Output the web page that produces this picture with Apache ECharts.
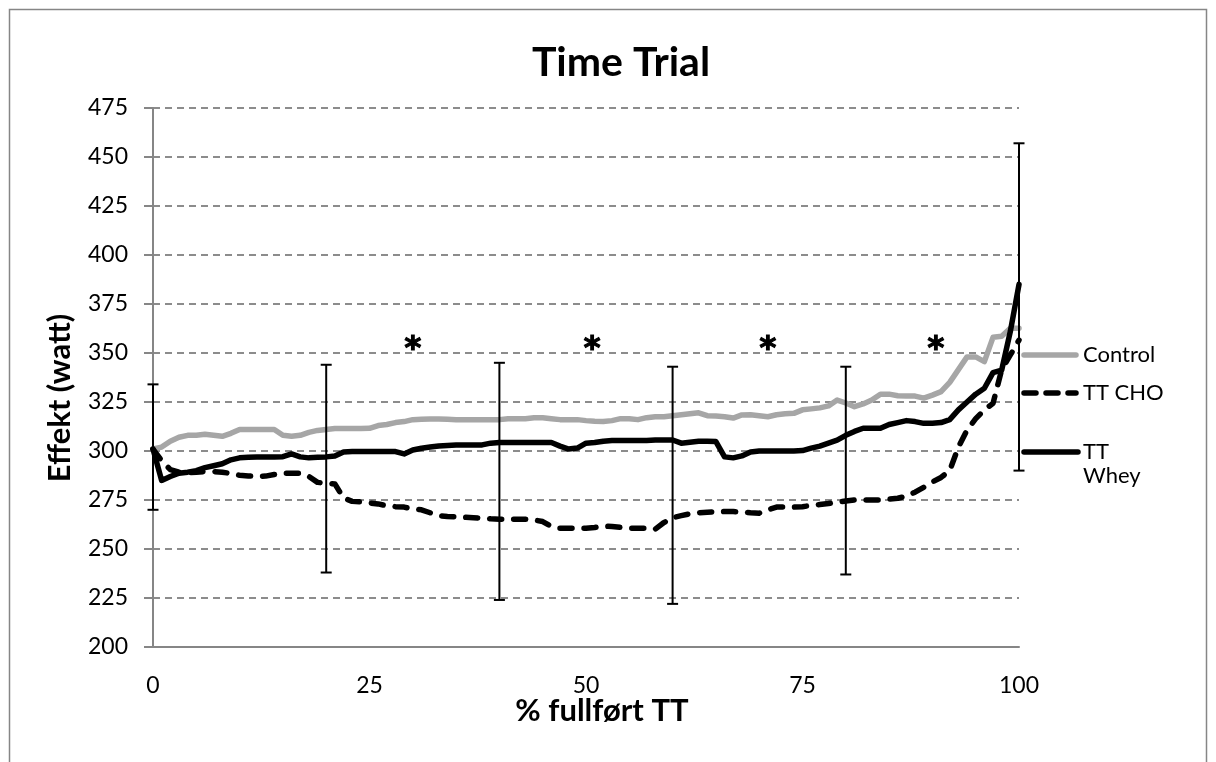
<!DOCTYPE html>
<html>
<head>
<meta charset="utf-8">
<script src="https://cdn.jsdelivr.net/npm/echarts@6/dist/echarts.min.js"></script>
<style>
  html, body { margin: 0; padding: 0; background: #fff; }
  #chart { width: 1216px; height: 762px; }
</style>
</head>
<body>
<div id="chart"></div>
<script>
// % of the time trial completed
const pct = [
  0, 1, 2, 3, 4, 5, 6, 7, 8, 9, 10, 11, 12, 13, 14, 15, 16, 17, 18, 19,
  20, 21, 22, 23, 24, 25, 26, 27, 28, 29, 30, 31, 32, 33, 34, 35, 36, 37, 38, 39,
  40, 41, 42, 43, 44, 45, 46, 47, 48, 49, 50, 51, 52, 53, 54, 55, 56, 57, 58, 59,
  60, 61, 62, 63, 64, 65, 66, 67, 68, 69, 70, 71, 72, 73, 74, 75, 76, 77, 78, 79,
  80, 81, 82, 83, 84, 85, 86, 87, 88, 89, 90, 91, 92, 93, 94, 95, 96, 97, 98, 99, 100
];

// Power output (watt)
const control = [
  301, 302, 305, 307, 308, 308, 308.5, 308, 307.5, 309,
  311, 311, 311, 311, 311, 308, 307.5, 308, 309.5, 310.5,
  311, 311.5, 311.5, 311.5, 311.5, 311.6, 313, 313.5, 314.5, 315,
  316, 316.2, 316.3, 316.3, 316.2, 316, 316, 316, 316, 316,
  316, 316.5, 316.5, 316.5, 317, 317, 316.5, 316, 316, 316,
  315.5, 315.2, 315, 315.5, 316.5, 316.5, 316, 317, 317.5, 317.5,
  318, 318.5, 319, 319.5, 318, 317.8, 317.5, 316.8, 318.4, 318.5,
  318, 317.5, 318.5, 319, 319.2, 321, 321.5, 322, 323, 326,
  324.5, 322.6, 324, 326, 329, 329, 328.2, 328, 328, 327,
  328.5, 330.3, 335, 341.5, 348, 348, 345.6, 358, 358.5, 362.6, 362.6
];

const ttCho = [
  301, 295, 290.5, 289.2, 289, 289.2, 289.5, 289.5, 289.2, 288.5,
  287.6, 287.3, 287, 287.2, 288, 288.6, 288.6, 288.6, 287, 284,
  283.5, 283.2, 276, 274.3, 274, 273.5, 273, 272, 271.6, 271.4,
  270.3, 270, 268.5, 267, 266.6, 266.4, 266.2, 266, 265.7, 265.4,
  265.2, 265.2, 265.2, 265.2, 264.8, 264, 261.5, 260.6, 260.6, 260.6,
  260.6, 261, 261.7, 261.5, 261, 260.6, 260.6, 260.6, 260.1, 263.5,
  266, 267, 268, 268.5, 268.8, 269, 269.1, 269.1, 268.8, 268.5,
  268.3, 270, 271.4, 271.4, 271.4, 271.6, 272.2, 272.7, 273.2, 273.8,
  274.5, 275, 275, 275, 275, 275.4, 275.9, 277, 279, 281.5,
  284.2, 286.5, 290, 302, 310.7, 316.5, 321, 324.3, 341.5, 349, 356.6
];

const ttWhey = [
  301, 285, 287, 288.7, 289.2, 290, 291.5, 292.5, 293.5, 295.5,
  296.5, 296.8, 297, 297, 297, 297.1, 298.5, 297, 296.5, 296.8,
  297, 297.5, 299.5, 299.7, 299.7, 299.7, 299.7, 299.7, 299.7, 298.5,
  300.5, 301.4, 302, 302.6, 302.8, 303, 303, 303, 303.1, 304,
  304.3, 304.3, 304.3, 304.3, 304.3, 304.3, 304.3, 302.5, 301, 301.5,
  304, 304.3, 305, 305.3, 305.3, 305.3, 305.3, 305.3, 305.6, 305.6,
  305.6, 304, 304.5, 305, 305, 304.8, 297, 296.5, 297.5, 299.5,
  300, 300, 300, 300, 300, 300.2, 301.5, 302.5, 304, 305.5,
  308, 310, 311.6, 311.6, 311.6, 313.5, 314.5, 315.5, 315, 314.1,
  314.2, 314.5, 316, 321, 325, 329, 332, 340, 341.3, 361, 385
];

// Error bars (lower and upper ends)
const errX = [0, 20, 40, 60, 80, 100];
const errLow = [270, 238, 224, 222, 237, 290];
const errHigh = [334, 344, 345, 343, 343, 457];

// Significance markers
const sigX = [30, 50.7, 71, 90.4];
const sigY = [356, 356, 356, 356];

// Axis ticks
const yTicks = [200, 225, 250, 275, 300, 325, 350, 375, 400, 425, 450, 475];
const xTicks = [0, 25, 50, 75, 100];

const FONT = 'Lato, "Open Sans", "Liberation Sans", sans-serif';

const zip = (xs, ys) => xs.map((x, i) => [x, ys[i]]);

const chart = echarts.init(document.getElementById('chart'), null, { renderer: 'canvas' });

const option = {
  animation: false,
  backgroundColor: '#ffffff',
  textStyle: { fontFamily: FONT },
  title: {
    text: 'Time Trial',
    left: 616,
    top: 37,
    textAlign: 'center',
    textStyle: { fontFamily: FONT, fontSize: 41, fontWeight: 'bold', color: '#000' }
  },
  grid: { left: 153, right: 197, top: 108, bottom: 115, containLabel: false },
  xAxis: {
    type: 'value',
    min: xTicks[0],
    max: xTicks[xTicks.length - 1],
    interval: 25,
    axisLine: { show: true, onZero: false, lineStyle: { color: '#868686', width: 2 } },
    axisTick: { show: false },
    splitLine: { show: false },
    axisLabel: { color: '#000', fontFamily: FONT, fontSize: 23, margin: 27 }
  },
  yAxis: {
    type: 'value',
    min: yTicks[0],
    max: yTicks[yTicks.length - 1],
    interval: 25,
    axisLine: { show: true, onZero: false, lineStyle: { color: '#868686', width: 2 } },
    axisTick: { show: true, length: 9, lineStyle: { color: '#868686', width: 2 } },
    splitLine: { show: true, lineStyle: { color: '#8c8c8c', width: 2, type: [7, 5] } },
    axisLabel: { color: '#000', fontFamily: FONT, fontSize: 23, margin: 25 }
  },
  series: [
    {
      name: 'Control',
      type: 'line',
      data: zip(pct, control),
      showSymbol: false,
      symbol: 'none',
      clip: false,
      lineStyle: { color: '#a6a6a6', width: 5.5, join: 'round', cap: 'round' },
      z: 2
    },
    {
      name: 'TT CHO',
      type: 'line',
      data: zip(pct, ttCho),
      showSymbol: false,
      symbol: 'none',
      clip: false,
      lineStyle: { color: '#000', width: 5.5, type: [12, 12], cap: 'round', join: 'round' },
      z: 3
    },
    {
      name: 'TT Whey',
      type: 'line',
      data: zip(pct, ttWhey),
      showSymbol: false,
      symbol: 'none',
      clip: false,
      lineStyle: { color: '#000', width: 5.5, join: 'round', cap: 'round' },
      z: 4
    },
    {
      name: 'SD',
      type: 'custom',
      data: errX.map((x, i) => [x, errLow[i], errHigh[i]]),
      clip: false,
      z: 5,
      renderItem: function (params, api) {
        const x = api.value(0);
        const lo = api.coord([x, api.value(1)]);
        const hi = api.coord([x, api.value(2)]);
        const w = 5.5;
        const st = { stroke: '#000', lineWidth: 2, fill: null };
        return {
          type: 'group',
          children: [
            { type: 'line', shape: { x1: lo[0], y1: lo[1], x2: hi[0], y2: hi[1] }, style: st },
            { type: 'line', shape: { x1: lo[0] - w, y1: lo[1], x2: lo[0] + w, y2: lo[1] }, style: st },
            { type: 'line', shape: { x1: hi[0] - w, y1: hi[1], x2: hi[0] + w, y2: hi[1] }, style: st }
          ]
        };
      }
    },
    {
      name: 'sig',
      type: 'scatter',
      data: zip(sigX, sigY),
      symbolSize: 0,
      itemStyle: { color: '#000', opacity: 1 },
      label: {
        show: true,
        position: 'inside',
        formatter: '*',
        color: '#000',
        opacity: 1,
        fontFamily: '"DejaVu Sans", sans-serif',
        fontSize: 32,
        fontWeight: 'bold',
        textBorderColor: '#000',
        textBorderWidth: 1.2,
        offset: [0, 8]
      },
      z: 6
    }
  ],
  graphic: [
    // chart frame
    {
      type: 'rect',
      shape: { x: 9.5, y: 9.5, width: 1197, height: 800 },
      style: { fill: 'none', stroke: '#868686', lineWidth: 1.5 },
      silent: true,
      z: -10
    },
    // y-axis title
    {
      type: 'text',
      x: 60,
      y: 398,
      rotation: Math.PI / 2,
      style: {
        text: 'Effekt (watt)',
        font: 'bold 31px ' + FONT,
        fill: '#000',
        align: 'center',
        verticalAlign: 'middle'
      }
    },
    // x-axis title
    {
      type: 'text',
      x: 602,
      y: 711,
      style: {
        text: '% fullført TT',
        font: 'bold 31px ' + FONT,
        fill: '#000',
        align: 'center',
        verticalAlign: 'middle'
      }
    },
    // legend
    {
      type: 'line',
      shape: { x1: 1024, y1: 355, x2: 1076, y2: 355 },
      style: { stroke: '#a6a6a6', lineWidth: 5.5, lineCap: 'round' }
    },
    {
      type: 'text', x: 1083, y: 355,
      style: { text: 'Control', font: '22px ' + FONT, fill: '#000', verticalAlign: 'middle' }
    },
    {
      type: 'line',
      shape: { x1: 1024, y1: 393, x2: 1076, y2: 393 },
      style: { stroke: '#000', lineWidth: 5.5, lineCap: 'round', lineDash: [12, 10] }
    },
    {
      type: 'text', x: 1083, y: 393,
      style: { text: 'TT CHO', font: '22px ' + FONT, fill: '#000', verticalAlign: 'middle' }
    },
    {
      type: 'line',
      shape: { x1: 1024, y1: 452, x2: 1078, y2: 452 },
      style: { stroke: '#000', lineWidth: 5.5, lineCap: 'round' }
    },
    {
      type: 'text', x: 1083, y: 452,
      style: { text: 'TT', font: '22px ' + FONT, fill: '#000', verticalAlign: 'middle' }
    },
    {
      type: 'text', x: 1083, y: 476,
      style: { text: 'Whey', font: '22px ' + FONT, fill: '#000', verticalAlign: 'middle' }
    }
  ]
};

chart.setOption(option);
</script>
</body>
</html>
